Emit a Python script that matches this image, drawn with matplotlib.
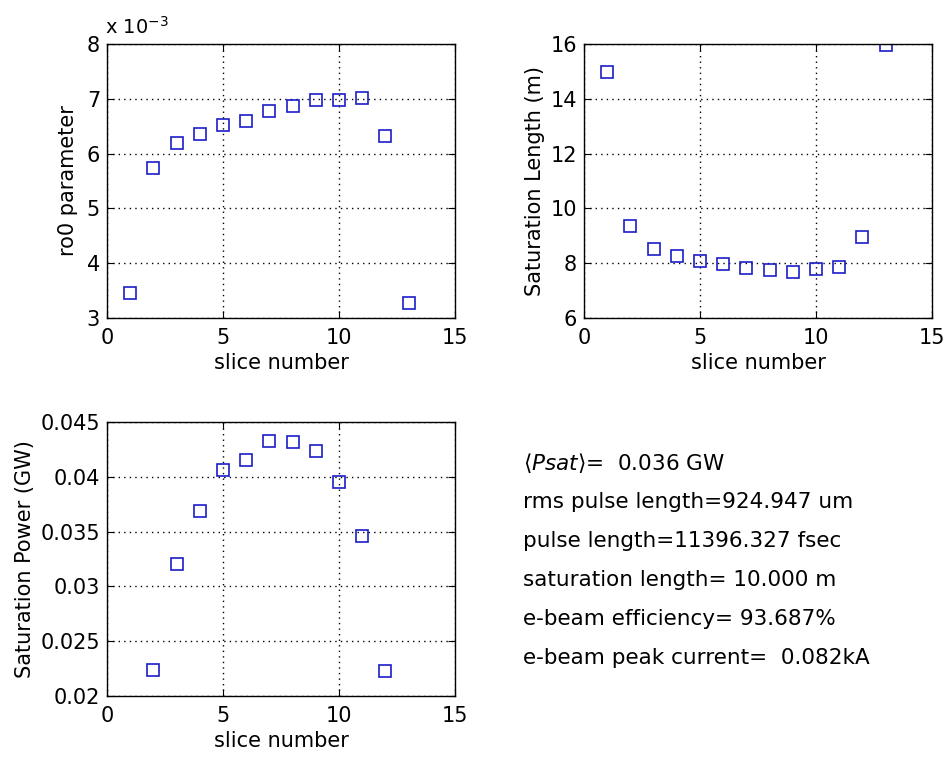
import matplotlib
matplotlib.use("Agg")
import matplotlib.pyplot as plt
from matplotlib.ticker import FuncFormatter

plt.rcParams["font.family"] = ["DejaVu Sans"]
plt.rcParams["mathtext.fontset"] = "dejavusans"

# slice data
slices = [1, 2, 3, 4, 5, 6, 7, 8, 9, 10, 11, 12, 13]
ro0 = [3.45e-3, 5.73e-3, 6.20e-3, 6.35e-3, 6.52e-3, 6.60e-3, 6.78e-3,
       6.86e-3, 6.98e-3, 6.98e-3, 7.01e-3, 6.32e-3, 3.28e-3]
sat_length = [14.99, 9.34, 8.52, 8.27, 8.07, 7.98, 7.83, 7.77, 7.67,
              7.79, 7.88, 8.94, 15.95]
power_slices = [2, 3, 4, 5, 6, 7, 8, 9, 10, 11, 12]
sat_power = [0.02237, 0.03203, 0.03684, 0.04058, 0.04156, 0.04329,
             0.0432, 0.04235, 0.03949, 0.03462, 0.02228]

summary_lines = [
    r"$\langle Psat\rangle$=  0.036 GW",
    "rms pulse length=924.947 um",
    "pulse length=11396.327 fsec",
    "saturation length= 10.000 m",
    "e-beam efficiency= 93.687%",
    "e-beam peak current=  0.082kA",
]

FS = 15
COLOR = "#1c1cc8"

fig = plt.figure(figsize=(9.49, 7.61), dpi=100)
ax1 = fig.add_axes([0.1128, 0.5821, 0.3667, 0.3601])
ax2 = fig.add_axes([0.6154, 0.5821, 0.3667, 0.3601])
ax3 = fig.add_axes([0.1128, 0.0854, 0.3667, 0.3601])


def style(ax, yticks):
    ax.set_xlim(0, 15)
    ax.set_xticks([0, 5, 10, 15])
    ax.set_yticks(yticks)
    ax.set_ylim(yticks[0], yticks[-1])
    ax.grid(True, color="black", linestyle=(0, (1, 3)), linewidth=1.0)
    ax.tick_params(direction="in", top=True, right=True, length=5,
                   labelsize=FS)
    ax.tick_params(axis="x", pad=7)
    ax.tick_params(axis="y", pad=5)
    for s in ax.spines.values():
        s.set_linewidth(1.0)
    ax.set_xlabel("slice number", fontsize=FS, labelpad=4)


ax1.plot(slices, ro0, "s", mfc="none", mec=COLOR, ms=8.5, mew=1.2)
style(ax1, [3e-3, 4e-3, 5e-3, 6e-3, 7e-3, 8e-3])
ax1.yaxis.set_major_formatter(FuncFormatter(lambda v, p: f"{v * 1e3:g}"))
ax1.set_ylabel("ro0 parameter", fontsize=FS, labelpad=6)
ax1.text(-0.005, 1.036, r"x 10$^{-3}$", transform=ax1.transAxes,
         fontsize=14, ha="left", va="baseline")

ax2.plot(slices, sat_length, "s", mfc="none", mec=COLOR, ms=8.5, mew=1.2)
style(ax2, [6, 8, 10, 12, 14, 16])
ax2.set_ylabel("Saturation Length (m)", fontsize=FS, labelpad=4)

ax3.plot(power_slices, sat_power, "s", mfc="none", mec=COLOR, ms=8.5, mew=1.2)
style(ax3, [0.02, 0.025, 0.03, 0.035, 0.04, 0.045])
ax3.yaxis.set_major_formatter(FuncFormatter(lambda v, p: f"{v:g}"))
ax3.set_ylabel("Saturation Power (GW)", fontsize=FS, labelpad=4)

for i, line in enumerate(summary_lines):
    fig.text(523 / 949, 1 - (463 + 39 * i) / 761, line, fontsize=15.5,
             ha="left", va="center")

fig.savefig("out.png", dpi=100)
